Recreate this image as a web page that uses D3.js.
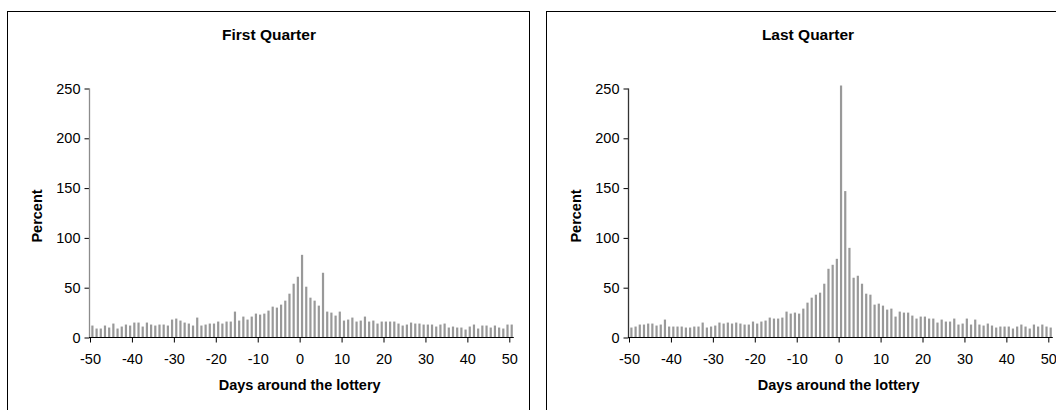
<!DOCTYPE html>
<html lang="en">
<head>
<meta charset="utf-8" />
<title>Lottery quarters</title>
<style>
  body { margin: 0; background: #fff; }
  text { font-family: "Liberation Sans", Arial, sans-serif; }
</style>
</head>
<body>
<script src="https://d3js.org/d3.v7.min.js"></script>
<div id="chart"></div>
<script>
// days around the lottery (categories)
const days = d3.range(-50, 51);

// percent, first quarter, days -50..50
const firstQuarter = [
  12, 9, 9, 12, 10, 14, 9, 11, 13, 12, 15, 15, 11, 15, 13, 12, 13, 13, 12, 18,
  19, 17, 15, 14, 12, 20, 12, 13, 14, 14, 16, 14, 16, 16, 26, 17, 21, 18, 21, 24,
  23, 24, 27, 31, 30, 33, 37, 44, 54, 61,
  83, 51, 40, 37, 32, 65, 26, 25, 22, 26, 17, 18, 20, 16, 17, 21, 16, 17, 14, 16,
  16, 16, 16, 14, 12, 13, 15, 14, 14, 13, 13, 13, 11, 13, 14, 10, 11, 10, 10, 8,
  11, 13, 9, 12, 12, 10, 12, 10, 9, 13, 13
];

// percent, last quarter, days -50..50
const lastQuarter = [
  10, 11, 13, 13, 14, 14, 12, 13, 18, 11, 11, 11, 11, 10, 10, 11, 11, 15, 10, 11,
  12, 15, 14, 15, 14, 15, 14, 13, 13, 16, 14, 16, 17, 20, 19, 19, 20, 26, 24, 25,
  24, 29, 35, 40, 43, 45, 54, 69, 73, 79,
  253, 147, 90, 60, 62, 54, 44, 43, 33, 34, 32, 28, 29, 21, 26, 25, 25, 22, 19, 21,
  21, 19, 19, 15, 18, 16, 16, 19, 13, 14, 19, 13, 18, 13, 12, 14, 12, 10, 11, 11,
  11, 9, 11, 13, 11, 9, 13, 11, 13, 11, 10
];

const xTicks = [-50, -40, -30, -20, -10, 0, 10, 20, 30, 40, 50];
const yTicks = [0, 50, 100, 150, 200, 250];

const panels = [
  {title: "First Quarter", values: firstQuarter, axisColor: "#8c8c8c"},
  {title: "Last Quarter", values: lastQuarter, axisColor: "#333"}
];

const W = 1056, H = 410;
const panelW = 522, panelOffset = 539;
const plot = {left: 90, right: 509.3, top: 88.5, bottom: 337.5};

const svg = d3.select("#chart")
  .append("svg")
  .attr("width", W)
  .attr("height", H);

const x = d3.scaleLinear().domain([-50, 50]).range([plot.left, plot.right]);
const y = d3.scaleLinear().domain([0, 250]).range([plot.bottom, plot.top]);

const plain = d => String(d);   // hyphen minus like the original

panels.forEach((p, i) => {
  const g = svg.append("g")
    .attr("transform", `translate(${i * panelOffset},0)`);

  // frame
  g.append("rect")
    .attr("x", 7.5).attr("y", 11.5)
    .attr("width", panelW).attr("height", H)
    .attr("fill", "none")
    .attr("stroke", "#000")
    .attr("stroke-width", 1);

  g.append("text")
    .attr("x", 269).attr("y", 39.5)
    .attr("text-anchor", "middle")
    .style("font-size", "15.5px")
    .style("font-weight", "bold")
    .text(p.title);

  // bars
  g.selectAll("rect.bar")
    .data(days)
    .join("rect")
    .attr("class", "bar")
    .attr("x", d => x(d) + 1.3)
    .attr("width", 2.2)
    .attr("y", (d, j) => y(p.values[j]))
    .attr("height", (d, j) => y(0) - y(p.values[j]))
    .attr("fill", "#999");

  // y axis
  const yAxis = g.append("g")
    .attr("transform", `translate(${plot.left - 0.5},0)`)
    .call(d3.axisLeft(y).tickValues(yTicks).tickFormat(plain).tickSize(5).tickPadding(4));
  yAxis.select(".domain").remove();
  yAxis.append("line")
    .attr("y1", plot.top).attr("y2", plot.bottom)
    .attr("stroke", p.axisColor)
    .attr("stroke-width", 1.3);
  yAxis.selectAll(".tick line").attr("stroke", "#000");
  yAxis.selectAll(".tick text")
    .attr("fill", "#000")
    .style("font-size", "14.5px")
    .style("font-family", "'Liberation Sans', Arial, sans-serif");

  // x axis
  const xAxis = g.append("g")
    .attr("transform", `translate(0,${plot.bottom})`)
    .call(d3.axisBottom(x).tickValues(xTicks).tickFormat(plain).tickSize(5).tickPadding(11));
  xAxis.select(".domain").remove();
  xAxis.append("line")
    .attr("x1", plot.left - 1).attr("x2", plot.right + 4.5)
    .attr("stroke", "#000")
    .attr("stroke-width", 1);
  xAxis.selectAll(".tick line").attr("stroke", "#000");
  xAxis.selectAll(".tick text")
    .attr("fill", "#000")
    .style("font-size", "14.5px")
    .style("font-family", "'Liberation Sans', Arial, sans-serif");

  // axis titles
  g.append("text")
    .attr("x", (plot.left + plot.right) / 2).attr("y", 389.5)
    .attr("text-anchor", "middle")
    .style("font-size", "14.5px")
    .style("font-weight", "bold")
    .text("Days around the lottery");

  g.append("text")
    .attr("transform", `translate(42,216) rotate(-90)`)
    .attr("text-anchor", "middle")
    .style("font-size", "14.5px")
    .style("font-weight", "bold")
    .text("Percent");
});
</script>
</body>
</html>
